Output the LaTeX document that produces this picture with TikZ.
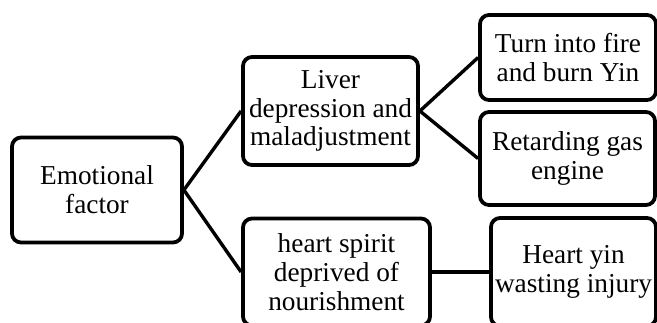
\documentclass[tikz,border=0pt]{standalone}
\usepackage{fontspec}
\setmainfont{Liberation Serif}
\begin{document}
\begin{tikzpicture}[x=1pt,y=-1pt,
  box/.style={draw=black, line width=3.8pt, rounded corners=9pt, align=center,
    inner sep=0pt, font=\fontsize{27.3}{28.8}\selectfont},
  conn/.style={draw=black, line width=3.4pt}]
\useasboundingbox (0,0) rectangle (657,322);
\clip (0,0) rectangle (657,322);
\node[box, minimum width=170pt, minimum height=105pt] (emo) at (97,190) {Emotional\\factor};
\node[box, minimum width=175pt, minimum height=108pt] (liver) at (330.5,111) {Liver\\depression and\\maladjustment};
\node[box, minimum width=187pt, minimum height=107pt] (hs) at (336.5,272) {heart spirit\\deprived of\\nourishment};
\node[box, minimum width=165pt, minimum height=108pt] (hy) at (573.5,272) {Heart yin\\wasting injury};
\node[box, minimum width=176pt, minimum height=85pt] (fire) at (568,57.5) {Turn into fire\\and burn Yin};
\node[box, minimum width=175pt, minimum height=93pt] (ret) at (567.5,158.5) {Retarding gas\\engine};
\draw[conn] (emo.east) -- (liver.west);
\draw[conn] (emo.east) -- (hs.west);
\draw[conn] (liver.east) -- (fire.west);
\draw[conn] (liver.east) -- (ret.west);
\draw[conn] (hs.east) -- (hy.west);
\end{tikzpicture}
\end{document}
